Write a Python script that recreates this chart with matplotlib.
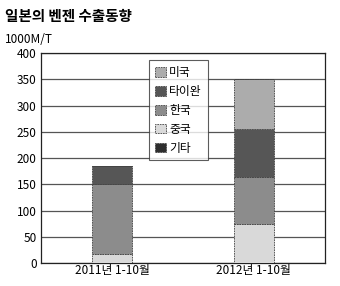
import matplotlib.pyplot as plt
import numpy as np

plt.rcParams['font.family'] = ['Noto Sans CJK KR', 'DejaVu Sans']

periods = ['2011년 1-10월', '2012년 1-10월']
series = ['미국', '타이완', '한국', '중국', '기타']
# values (1000 M/T), stacked bottom to top: 중국, 한국, 타이완, 미국, 기타
china = [17, 74]
korea = [133, 90]
taiwan = [35, 91]
usa = [0, 95]
other = [0, 0]

colors = {'미국': '#acacac', '타이완': '#565656', '한국': '#8c8c8c',
          '중국': '#d9d9d9', '기타': '#2e2e2e'}

fig = plt.figure(figsize=(3.4, 2.86), dpi=100)
ax = fig.add_axes([0.1206, 0.0804, 0.835, 0.734])

x = np.arange(len(periods))
w = 0.28
stack = [('중국', china), ('한국', korea), ('타이완', taiwan), ('미국', usa), ('기타', other)]
bottom = np.zeros(len(periods))
handles = {}
for name, vals in stack:
    vals = np.array(vals, dtype=float)
    b = ax.bar(x, vals, w, bottom=bottom, color=colors[name],
               edgecolor='#444444', linewidth=0.6, linestyle=(0, (2, 1)), zorder=3)
    handles[name] = b
    bottom += vals

ax.set_xlim(-0.5, 1.5)
ax.set_ylim(0, 400)
ax.set_yticks(range(0, 401, 50))
ax.yaxis.grid(True, color='#555555', linewidth=0.9, zorder=0)
ax.set_axisbelow(True)
ax.set_xticks(x)
ax.set_xticklabels(periods, fontsize=8.5)
ax.tick_params(axis='y', labelsize=8.5, length=0, pad=3)
ax.tick_params(axis='x', length=0, pad=1)
for s in ax.spines.values():
    s.set_color('#222222')
    s.set_linewidth(0.9)

leg = ax.legend([handles[n] for n in series], series, loc='upper left',
                bbox_to_anchor=(0.36, 0.995), fontsize=8.5, frameon=True,
                fancybox=False, edgecolor='#333333', handlelength=0.9,
                handleheight=0.9, handletextpad=0.3, labelspacing=0.5,
                borderpad=0.5)
leg.get_frame().set_linewidth(0.8)

fig.text(0.015, 0.925, '일본의 벤젠 수출동향', fontsize=10.5, fontweight='bold')
fig.text(0.015, 0.85, '1000M/T', fontsize=8.5)

fig.savefig('out.png', dpi=100)
